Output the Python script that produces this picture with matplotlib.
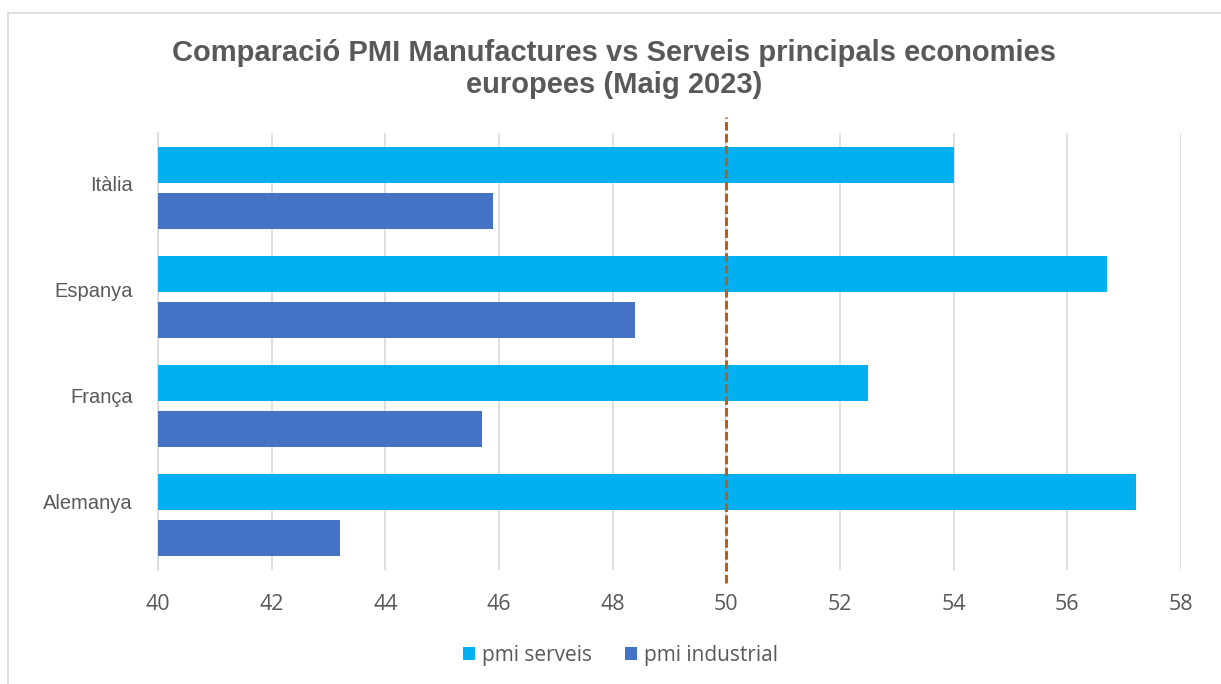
import numpy as np
import matplotlib.pyplot as plt
from matplotlib.patches import Rectangle

# data
countries = ['Alemanya', 'França', 'Espanya', 'Itàlia']
pmi_serveis = [57.2, 52.5, 56.7, 54.0]
pmi_industrial = [43.2, 45.7, 48.4, 45.9]
xticks = [40, 42, 44, 46, 48, 50, 52, 54, 56, 58]
threshold = 50

fig = plt.figure(figsize=(12.21, 6.84), dpi=100)
ax = fig.add_axes([158/1221, 1 - 570/684, (1181-158)/1221, (570-133)/684])

# outer chart frame
fig.add_artist(Rectangle((8/1221, -0.01), 1.1, 1 - 13/684 + 0.01, transform=fig.transFigure,
                         fill=False, edgecolor='#D9D9D9', linewidth=1.2))

y = np.arange(len(countries))
h = 0.33
off = 0.21
ax.barh(y + off, pmi_serveis, height=h, color='#00B0F0', label='pmi serveis', zorder=3)
ax.barh(y - off, pmi_industrial, height=h, color='#4472C4', label='pmi industrial', zorder=3)

ax.axvline(threshold, color='#C55A11', linestyle=(0, (2.8, 1.1)), linewidth=2.2, zorder=4,
           ymin=-0.03, ymax=1.037, clip_on=False)

ax.set_xlim(40, 58)
ax.set_ylim(-0.5, len(countries) - 0.5)
ax.set_xticks(xticks)
ax.set_xticklabels([str(v) for v in xticks], fontsize=15.5, color='#595959', family='Open Sans')
# category labels sit a little above the bar-pair centre, as in the original
ax.set_yticks(y * 0.97 + 0.13)
ax.set_yticklabels(countries, fontsize=14.5, color='#595959', family='Liberation Sans')
ax.tick_params(axis='x', length=0, pad=17)
ax.tick_params(axis='y', length=0, pad=18)

ax.grid(axis='x', color='#D9D9D9', linewidth=1.2, zorder=0)
for s in ['top', 'right', 'bottom']:
    ax.spines[s].set_visible(False)
ax.spines['left'].set_color('#D9D9D9')
ax.spines['left'].set_linewidth(1.2)

fig.text(0.503, 1 - 69/684, 'Comparació PMI Manufactures vs Serveis principals economies\neuropees (Maig 2023)',
         ha='center', va='center', fontsize=21, fontweight='bold', color='#595959',
         family='Liberation Sans', linespacing=1.15)

leg = fig.legend(loc='center', bbox_to_anchor=(0.508, 1 - 655/684), ncol=2, frameon=False,
                 prop={'family': 'Open Sans', 'size': 15}, handlelength=0.6, handleheight=0.6,
                 handletextpad=0.3, columnspacing=1.6)
for t in leg.get_texts():
    t.set_color('#595959')

fig.savefig('out.png', dpi=100, facecolor='white')
